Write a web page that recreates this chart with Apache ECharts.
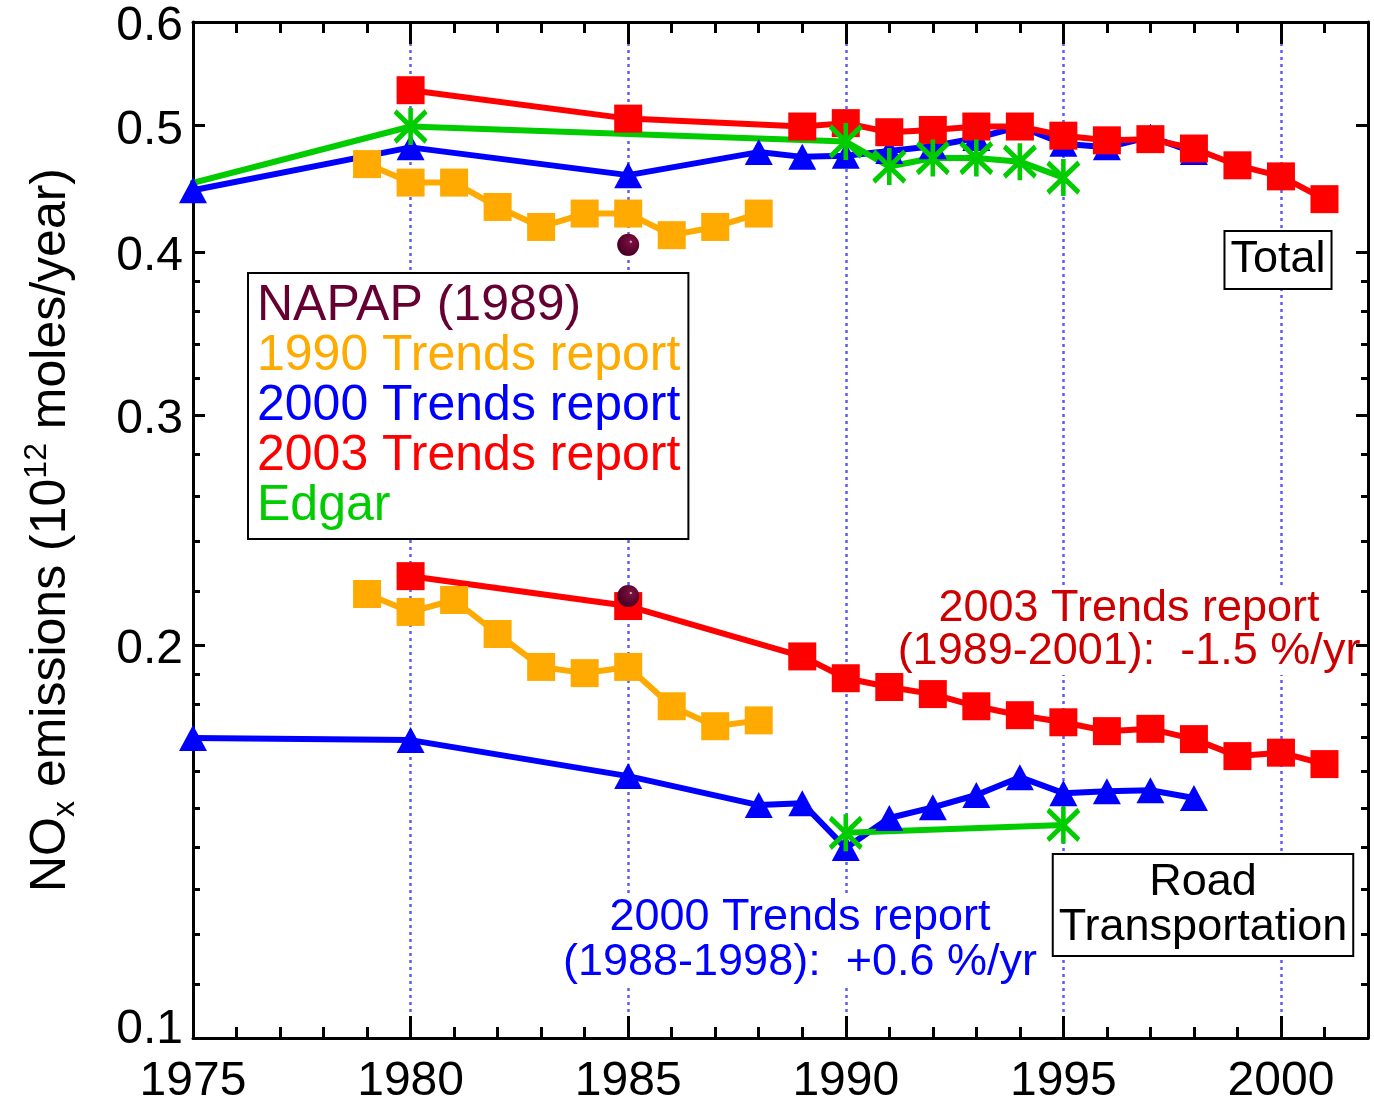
<!DOCTYPE html>
<html>
<head>
<meta charset="utf-8">
<script src="https://cdn.jsdelivr.net/npm/echarts@6/dist/echarts.min.js"></script>
<style>
  html, body { margin: 0; padding: 0; background: #ffffff; }
  #chart { width: 1374px; height: 1098px; }
</style>
</head>
<body>
<div id="chart"></div>
<script>
// ---- NOx emission estimates, 10^12 moles/year ----

// NAPAP (1989)
const napapYears = [1985];
const napapTotal = [0.405];
const napapRoad = [0.218];

// 1990 Trends report
const years1990 = [1979, 1980, 1981, 1982, 1983, 1984, 1985, 1986, 1987, 1988];
const trends1990Total = [0.467, 0.452, 0.452, 0.433, 0.418, 0.428, 0.428, 0.412, 0.418, 0.428];
const trends1990Road = [0.2188, 0.2120, 0.2165, 0.2039, 0.1924, 0.1903, 0.1924, 0.1795, 0.1733, 0.1751];

// 2000 Trends report
const years2000 = [1975, 1980, 1985, 1988, 1989, 1990, 1991, 1992, 1993, 1994, 1995, 1996, 1997, 1998];
const trends2000Total = [0.446, 0.481, 0.458, 0.477, 0.473, 0.474, 0.478, 0.482, 0.489, 0.499, 0.484, 0.481, 0.490, 0.477];
const trends2000Road = [0.1697, 0.1691, 0.1587, 0.1508, 0.1513, 0.1398, 0.1474, 0.1502, 0.1535, 0.1584, 0.1540, 0.1545, 0.1548, 0.1527];

// 2003 Trends report
const years2003 = [1980, 1985, 1989, 1990, 1991, 1992, 1993, 1994, 1995, 1996, 1997, 1998, 1999, 2000, 2001];
const trends2003Total = [0.532, 0.506, 0.499, 0.502, 0.494, 0.496, 0.499, 0.499, 0.491, 0.487, 0.488, 0.480, 0.466, 0.457, 0.439];
const trends2003Road = [0.2258, 0.2142, 0.1960, 0.1886, 0.1857, 0.1834, 0.1795, 0.1767, 0.1745, 0.1718, 0.1725, 0.1694, 0.1644, 0.1654, 0.1621];

// Edgar (the 1970 total lies left of the plotted range)
const edgarTotalYears = [1970, 1980, 1990, 1991, 1992, 1993, 1994, 1995];
const edgarTotal = [0.409, 0.499, 0.486, 0.465, 0.472, 0.472, 0.469, 0.456];
const edgarRoadYears = [1990, 1995];
const edgarRoad = [0.1436, 0.1456];

// Axis ticks
const yearLabels = [1975, 1980, 1985, 1990, 1995, 2000];
const yearMinorTicks = [1976, 1977, 1978, 1979, 1981, 1982, 1983, 1984, 1986, 1987, 1988, 1989,
  1991, 1992, 1993, 1994, 1996, 1997, 1998, 1999, 2001];
const emissionLabels = [0.1, 0.2, 0.3, 0.4, 0.5, 0.6];
const emissionMinorTicks = [0.11, 0.12, 0.13, 0.14, 0.15, 0.16, 0.17, 0.18, 0.19,
  0.22, 0.24, 0.26, 0.28, 0.32, 0.34, 0.36, 0.38];

// Series names / colours
const NAME_NAPAP = 'NAPAP (1989)';
const NAME_1990 = '1990 Trends report';
const NAME_2000 = '2000 Trends report';
const NAME_2003 = '2003 Trends report';
const NAME_EDGAR = 'Edgar';
const COLOR_NAPAP = '#660033';
const COLOR_1990 = '#ffaa00';
const COLOR_2000 = '#0000ff';
const COLOR_2003 = '#ff0000';
const COLOR_EDGAR = '#00cc00';

const FONT = '"Liberation Sans", Arial, Helvetica, sans-serif';
const X_MIN = 1975, X_MAX = 2002;
const Y_MIN = 0.1, Y_MAX = 0.6;

// The emission axis is logarithmic: values are plotted as log10 on a linear scale.
const lg = v => Math.log10(v);
const pairs = (years, vals) => years.map((y, i) => [y, lg(vals[i])]);

const ASTERISK = 'path://M0,-16L0,16M-13,-13L13,13M13,-13L-13,13';

function lineSeries(name, color, years, vals, symbol, size, extra) {
  return Object.assign({
    type: 'line',
    name: name,
    data: pairs(years, vals),
    symbol: symbol,
    symbolSize: size,
    showAllSymbol: true,
    lineStyle: { color: color, width: 6 },
    itemStyle: { color: color },
    emphasis: { disabled: true },
    clip: true,
    z: 2
  }, extra || {});
}

const asteriskStyle = { itemStyle: { color: COLOR_EDGAR, borderColor: COLOR_EDGAR, borderWidth: 5 } };
const napapBall = {
  type: 'radial', x: 0.62, y: 0.36, r: 0.6,
  colorStops: [
    { offset: 0, color: '#ffffff' },
    { offset: 0.12, color: '#7a1040' },
    { offset: 1, color: '#4a0024' }
  ]
};

const series = [
  lineSeries(NAME_1990, COLOR_1990, years1990, trends1990Total, 'rect', 28),
  lineSeries(NAME_1990, COLOR_1990, years1990, trends1990Road, 'rect', 28),
  lineSeries(NAME_2000, COLOR_2000, years2000, trends2000Total, 'triangle', [28, 26]),
  lineSeries(NAME_2000, COLOR_2000, years2000, trends2000Road, 'triangle', [28, 26]),
  lineSeries(NAME_2003, COLOR_2003, years2003, trends2003Total, 'rect', 28),
  lineSeries(NAME_2003, COLOR_2003, years2003, trends2003Road, 'rect', 28),
  lineSeries(NAME_EDGAR, COLOR_EDGAR, edgarTotalYears, edgarTotal, ASTERISK, [31, 37], asteriskStyle),
  lineSeries(NAME_EDGAR, COLOR_EDGAR, edgarRoadYears, edgarRoad, ASTERISK, [31, 37], asteriskStyle),
  lineSeries(NAME_NAPAP, COLOR_NAPAP, napapYears, napapTotal, 'circle', 22,
    { itemStyle: { color: napapBall }, z: 3 }),
  lineSeries(NAME_NAPAP, COLOR_NAPAP, napapYears, napapRoad, 'circle', 22,
    { itemStyle: { color: napapBall }, z: 3 })
];

const blackLine = { show: true, lineStyle: { color: '#000', width: 3 } };
const noLine = { show: false };

function xAxisDef(position, ticks, length, withLabels, withLine) {
  return {
    type: 'value', position: position, min: X_MIN, max: X_MAX, z: 1,
    axisLine: withLine ? Object.assign({ onZero: false }, blackLine) : noLine,
    axisTick: { show: true, inside: true, length: length, customValues: ticks,
      lineStyle: { color: '#000', width: 3 } },
    axisLabel: withLabels ? {
      show: true, customValues: ticks, margin: 20, color: '#000',
      fontFamily: FONT, fontSize: 48, formatter: v => String(v)
    } : { show: false },
    splitLine: { show: false }
  };
}

function yAxisDef(position, ticks, length, withLabels, withLine) {
  const logTicks = ticks.map(lg);
  return {
    type: 'value', position: position, min: lg(Y_MIN), max: lg(Y_MAX), z: 1,
    axisLine: withLine ? Object.assign({ onZero: false }, blackLine) : noLine,
    axisTick: { show: true, inside: true, length: length, customValues: logTicks,
      lineStyle: { color: '#000', width: 3 } },
    axisLabel: withLabels ? {
      show: true, customValues: logTicks, margin: 10, color: '#000',
      fontFamily: FONT, fontSize: 48,
      // the bottom label sits a little above its tick, the others a little below
      formatter: v => {
        const txt = Math.pow(10, v).toFixed(1);
        return Math.abs(v - lg(Y_MIN)) < 1e-9 ? '{low|' + txt + '}' : '{std|' + txt + '}';
      },
      rich: {
        std: { fontFamily: FONT, fontSize: 48, color: '#000', padding: [10, 0, 0, 0] },
        low: { fontFamily: FONT, fontSize: 48, color: '#000', padding: [0, 0, 16, 0] }
      }
    } : { show: false },
    splitLine: { show: false }
  };
}

const yMain = yAxisDef('left', emissionLabels, 12, true, true);
yMain.name = '{m|NO}{sub|x}{m| emissions (10}{sup|12}{m| moles/year)}';
yMain.nameLocation = 'middle';
yMain.nameRotate = 90;
yMain.nameGap = 112;
yMain.nameTextStyle = {
  color: '#000', fontFamily: FONT,
  rich: {
    m: { fontSize: 50, fontFamily: FONT, color: '#000', lineHeight: 60 },
    sub: { fontSize: 32, fontFamily: FONT, color: '#000', lineHeight: 30, verticalAlign: 'bottom' },
    sup: { fontSize: 32, fontFamily: FONT, color: '#000', lineHeight: 30, verticalAlign: 'top' }
  }
};

const option = {
  animation: false,
  backgroundColor: '#ffffff',
  grid: { left: 193, top: 22, right: 6, bottom: 60, containLabel: false, outerBoundsMode: 'none' },
  xAxis: [
    xAxisDef('bottom', yearLabels, 22, true, true),
    xAxisDef('bottom', yearMinorTicks, 11, false, false),
    xAxisDef('top', yearLabels, 22, false, true),
    xAxisDef('top', yearMinorTicks, 11, false, false),
    // dotted year guides every five years
    {
      type: 'value', position: 'bottom', min: X_MIN, max: X_MAX, interval: 5, z: 0,
      axisLine: noLine, axisTick: { show: false }, axisLabel: { show: false },
      splitLine: { show: true, lineStyle: { color: '#5c5cff', width: 2.5, type: [3, 4] } }
    }
  ],
  yAxis: [
    yMain,
    yAxisDef('left', emissionMinorTicks, 7, false, false),
    yAxisDef('right', emissionLabels, 12, false, true),
    yAxisDef('right', emissionMinorTicks, 7, false, false)
  ],
  legend: {
    left: 248, top: 273, orient: 'vertical',
    icon: 'rect', itemWidth: 0, itemHeight: 0, itemGap: 0,
    padding: [8, 8, 8, 3],
    backgroundColor: '#ffffff', borderColor: '#000000', borderWidth: 2,
    selectedMode: false,
    itemStyle: { opacity: 0 }, lineStyle: { opacity: 0 },
    textStyle: { fontFamily: FONT, fontSize: 50, lineHeight: 50 },
    data: [
      { name: NAME_NAPAP, textStyle: { color: COLOR_NAPAP } },
      { name: NAME_1990, textStyle: { color: COLOR_1990 } },
      { name: NAME_2000, textStyle: { color: COLOR_2000 } },
      { name: NAME_2003, textStyle: { color: COLOR_2003 } },
      { name: NAME_EDGAR, textStyle: { color: COLOR_EDGAR } }
    ]
  },
  graphic: {
    elements: [
      {
        type: 'text', z: 1,
        style: {
          x: 1278, y: 260, align: 'center', verticalAlign: 'middle',
          text: 'Total', fill: '#000', font: '45px ' + FONT, lineHeight: 50,
          backgroundColor: '#fff', borderColor: '#000', borderWidth: 2, padding: [3, 5, 3, 5]
        }
      },
      {
        type: 'text', z: 1,
        style: {
          x: 1203, y: 905, align: 'center', verticalAlign: 'middle',
          text: 'Road\nTransportation', fill: '#000', font: '45px ' + FONT, lineHeight: 45,
          backgroundColor: '#fff', borderColor: '#000', borderWidth: 2, padding: [5, 5, 5, 5]
        }
      },
      {
        type: 'text', z: 1,
        style: {
          x: 1129, y: 630, align: 'center', verticalAlign: 'middle',
          text: '2003 Trends report\n(1989-2001):  -1.5 %/yr', fill: '#cc0000',
          font: '45px ' + FONT, lineHeight: 43, backgroundColor: '#fff', padding: [2, 0, 2, 0]
        }
      },
      {
        type: 'text', z: 1,
        style: {
          x: 800, y: 940, align: 'center', verticalAlign: 'middle',
          text: '2000 Trends report\n(1988-1998):  +0.6 %/yr', fill: '#0000ff',
          font: '45px ' + FONT, lineHeight: 45, backgroundColor: '#fff', padding: [2, 0, 2, 0]
        }
      }
    ]
  },
  series: series
};

const chart = echarts.init(document.getElementById('chart'), null, { renderer: 'canvas' });
chart.setOption(option);
</script>
</body>
</html>
